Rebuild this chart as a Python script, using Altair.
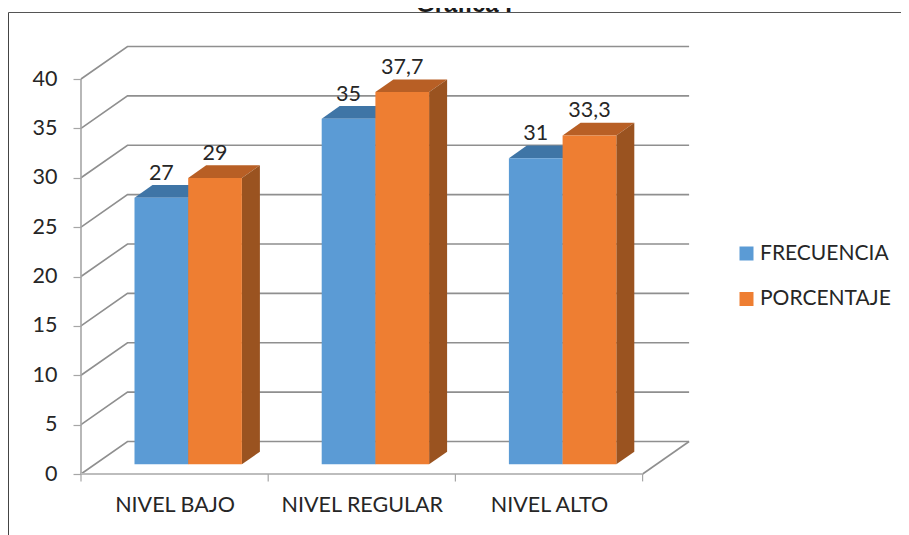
import altair as alt
import pandas as pd

# ---- chart values
categories = ["NIVEL BAJO", "NIVEL REGULAR", "NIVEL ALTO"]
series_names = ["FRECUENCIA", "PORCENTAJE"]
frecuencia = [27, 35, 31]
porcentaje = [29, 37.7, 33.3]
frecuencia_labels = ["27", "35", "31"]
porcentaje_labels = ["29", "37,7", "33,3"]
y_ticks = [0, 5, 10, 15, 20, 25, 30, 35, 40]
title_text = "Gráfica I"

# ---- scale geometry
PX_PER_CAT = 187.2
PX_PER_UNIT = 9.875
PLOT_W, PLOT_H = 820, 466
WALL_DX, WALL_DY = 46.5 / PX_PER_CAT, 32.5 / PX_PER_UNIT
BAR_DX, BAR_DY = 18 / PX_PER_CAT, 12.6 / PX_PER_UNIT
BAR_BASE = 9.7 / PX_PER_UNIT
BAR_LEFT = 53.5 / PX_PER_CAT
BAR_W = 53.7 / PX_PER_CAT

FONT = "Lato"
FS = 21.5
GRID = "#8f8f8f"
TEXT = "#262626"

xs = alt.Scale(domain=[0, PLOT_W / PX_PER_CAT], nice=False, zero=False)
ys = alt.Scale(domain=[0, PLOT_H / PX_PER_UNIT], nice=False, zero=False)
X = alt.X("x:Q", scale=xs, title=None,
          axis=alt.Axis(values=[0.5, 1.5, 2.5], domain=False, ticks=False, grid=False,
                        labelFont=FONT, labelFontSize=FS, labelColor=TEXT, labelPadding=20,
                        labelExpr="['NIVEL BAJO','NIVEL REGULAR','NIVEL ALTO'][floor(datum.value)]"))
Y = alt.Y("y:Q", scale=ys, title=None,
          axis=alt.Axis(values=y_ticks, domain=False, ticks=True, tickSize=8, tickColor="#a6a6a6",
                        tickWidth=1.2, grid=False, labelFont=FONT, labelFontSize=FS,
                        labelColor=TEXT, labelPadding=16))

# ---- wall and floor lines
grid_rows = []
for v in y_ticks:
    grid_rows += [dict(g=v, o=0, x=0, y=v),
                  dict(g=v, o=1, x=WALL_DX, y=v + WALL_DY),
                  dict(g=v, o=2, x=3 + WALL_DX, y=v + WALL_DY)]
grid_rows += [dict(g=-1, o=0, x=3, y=0), dict(g=-1, o=1, x=3 + WALL_DX, y=WALL_DY)]
grid = alt.Chart(pd.DataFrame(grid_rows)).mark_line(color=GRID, strokeWidth=1.6).encode(
    x=X, y=Y, detail="g:N", order="o:Q")

axis_v = alt.Chart(pd.DataFrame({"x": [0], "y": [0], "y2": [40]})).mark_rule(
    color="#a6a6a6", strokeWidth=1.6).encode(x=X, y=Y, y2="y2:Q")
axis_h = alt.Chart(pd.DataFrame({"x": [0], "x2": [3], "y": [0]})).mark_rule(
    color="#bdbdbd", strokeWidth=2).encode(x=X, x2="x2:Q", y=Y)
cat_ticks = alt.Chart(pd.DataFrame({"x": [0, 1, 2, 3], "y": [0] * 4, "y2": [-0.75] * 4})).mark_rule(
    color="#a6a6a6", strokeWidth=1.2).encode(x=X, y=Y, y2="y2:Q")


def bar_layers(values, labels, slot, top_col, side_col):
    layers = []
    top_rows, side_rows, front_rows, text_rows = [], [], [], []
    for i, v in enumerate(values):
        xl = i + BAR_LEFT + slot * BAR_W
        xr = xl + BAR_W
        b = BAR_BASE
        t = BAR_BASE + v
        top_rows += [dict(k=i, y=t, x=xl, x2=xr), dict(k=i, y=t + BAR_DY, x=xl + BAR_DX, x2=xr + BAR_DX)]
        side_rows += [dict(k=i, x=xr, y=b, y2=t), dict(k=i, x=xr + BAR_DX, y=b + BAR_DY, y2=t + BAR_DY)]
        front_rows.append(dict(x=xl, x2=xr, y=b, y2=t, serie=series_names[slot]))
        text_rows.append(dict(x=(xl + xr) / 2, y=t + 24 / PX_PER_UNIT, t=labels[i]))
    layers.append(alt.Chart(pd.DataFrame(top_rows)).mark_area(orient="horizontal", color=top_col).encode(
        y=Y, x=X, x2="x2:Q", detail="k:N"))
    layers.append(alt.Chart(pd.DataFrame(side_rows)).mark_area(orient="vertical", color=side_col).encode(
        x=X, y=Y, y2="y2:Q", detail="k:N"))
    layers.append(alt.Chart(pd.DataFrame(front_rows)).mark_rect().encode(
        x=X, x2="x2:Q", y=Y, y2="y2:Q",
        color=alt.Color("serie:N",
                        scale=alt.Scale(domain=series_names, range=["#5B9BD5", "#EE7E32"]),
                        legend=alt.Legend(orient="none", legendX=655, legendY=235, title=None,
                                          symbolType="square", symbolSize=196, symbolStrokeWidth=0,
                                          labelFont=FONT, labelFontSize=21, labelColor=TEXT,
                                          rowPadding=23.5, labelOffset=3))))
    layers.append(alt.Chart(pd.DataFrame(text_rows)).mark_text(
        font=FONT, fontSize=FS, color=TEXT).encode(x=X, y=Y, text="t:N"))
    return layers


blue = bar_layers(frecuencia, frecuencia_labels, 0, "#3F75A6", "#3A6A96")
orange = bar_layers(porcentaje, porcentaje_labels, 1, "#B85F25", "#9A5320")

frame_left = alt.Chart(pd.DataFrame({"a": [0]})).mark_rule(color="#444444", strokeWidth=1).encode(
    x=alt.value(-72.5), y=alt.value(4.5), y2=alt.value(527))
frame_top = alt.Chart(pd.DataFrame({"a": [0]})).mark_rule(color="#555555", strokeWidth=1).encode(
    x=alt.value(-72.5), x2=alt.value(PLOT_W), y=alt.value(4.5))
title_mark = alt.Chart(pd.DataFrame({"a": [0]})).mark_text(
    text=title_text, font="Liberation Sans", fontWeight="bold", fontSize=24, color="#1a1a1a",
    baseline="alphabetic").encode(x=alt.value(383), y=alt.value(3.5))

chart = alt.layer(
    frame_left, frame_top, title_mark, grid, axis_v, axis_h, cat_ticks,
    *blue, *orange,
).properties(
    width=PLOT_W, height=PLOT_H,
    padding={"left": 73, "top": 0, "right": 0, "bottom": 61},
    autosize=alt.AutoSizeParams(type="none"),
    background="white",
).configure_view(stroke=None)

chart.save("out.html", embed_options={"renderer": "svg", "actions": False})
